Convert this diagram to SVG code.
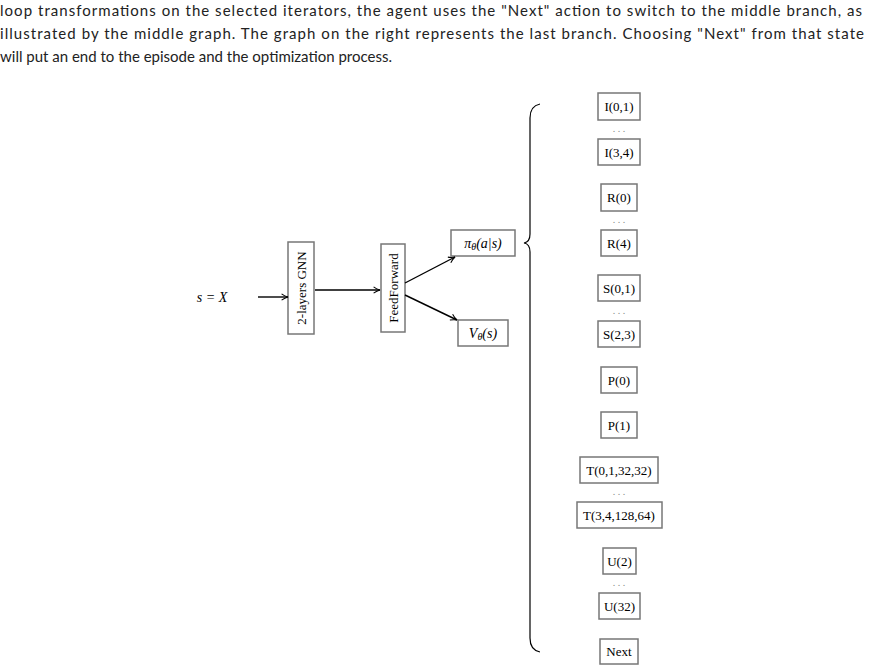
<svg xmlns="http://www.w3.org/2000/svg" width="870" height="670" viewBox="0 0 870 670">
<style>
.hd{font-family:Lato,"DejaVu Sans",sans-serif;font-size:15px;fill:#222}
.t{font-family:"Liberation Serif",serif;font-size:13px;fill:#000;text-anchor:middle;dominant-baseline:central}
.m{font-family:"Liberation Serif",serif;font-size:14px;font-style:italic;fill:#000;text-anchor:middle;dominant-baseline:central}
.b{fill:#fff;stroke:#777;stroke-width:1.5}
.c{stroke:#000;stroke-width:1.4;fill:none;marker-end:url(#a)}
.d{font-family:"Liberation Serif",serif;font-size:10px;fill:#888;text-anchor:middle}
</style>
<defs><marker id="a" viewBox="0 0 10 10" refX="9" refY="5" markerWidth="8" markerHeight="8" orient="auto" markerUnits="userSpaceOnUse"><path d="M1,1 Q5,4 9,5 Q5,6 1,9" fill="none" stroke="#000" stroke-width="1.3"/></marker></defs>
<rect width="870" height="670" fill="#fff"/>
<text class="hd" x="0" y="16" textLength="862">loop transformations on the selected iterators, the agent uses the "Next" action to switch to the middle branch, as</text>
<text class="hd" x="0" y="39" textLength="864">illustrated by the middle graph. The graph on the right represents the last branch. Choosing "Next" from that state</text>
<text class="hd" x="0" y="62">will put an end to the episode and the optimization process.</text>
<text class="m" x="212" y="297">s = X</text>
<g id="gnn"><rect class="b" x="288" y="242" width="26" height="92"/><text class="t" transform="translate(301,288) rotate(-90)">2-layers GNN</text></g>
<g id="ff"><rect class="b" x="381" y="244" width="24" height="88"/><text class="t" transform="translate(393,288) rotate(-90)">FeedForward</text></g>
<g id="pi"><rect class="b" x="451" y="230" width="64" height="26"/><text class="m" x="483" y="243">π<tspan font-size="10" dy="3">θ</tspan><tspan dy="-3">(a|s)</tspan></text></g>
<g id="v"><rect class="b" x="458" y="320" width="50" height="26"/><text class="m" x="483" y="333">V<tspan font-size="10" dy="3">θ</tspan><tspan dy="-3">(s)</tspan></text></g>
<g id="connectors">
<line class="c" x1="258" y1="297" x2="288" y2="297"/>
<line class="c" x1="315" y1="290" x2="380" y2="290"/>
<line class="c" x1="405" y1="283" x2="455" y2="257"/>
<line class="c" x1="405" y1="295" x2="457" y2="320"/>
</g>
<path id="brace" d="M540,104 Q530,106 530,118 L530,234 Q530,242 524,243 Q530,244 530,252 L530,638 Q530,650 540,652" fill="none" stroke="#000" stroke-width="1.2"/>
<g id="actions">
<g id="i01"><rect class="b" x="598" y="93" width="42" height="27"/><text class="t" x="619" y="106.5">I(0,1)</text></g>
<text class="d" x="619" y="132">. . .</text>
<g id="i34"><rect class="b" x="598" y="139" width="42" height="26"/><text class="t" x="619" y="152">I(3,4)</text></g>
<g id="r0"><rect class="b" x="601" y="184" width="36" height="27"/><text class="t" x="619" y="197.5">R(0)</text></g>
<text class="d" x="619" y="223">. . .</text>
<g id="r4"><rect class="b" x="601" y="230" width="36" height="26"/><text class="t" x="619" y="243">R(4)</text></g>
<g id="s01"><rect class="b" x="598" y="275" width="42" height="26"/><text class="t" x="619" y="288">S(0,1)</text></g>
<text class="d" x="619" y="314">. . .</text>
<g id="s23"><rect class="b" x="598" y="321" width="42" height="26"/><text class="t" x="619" y="334">S(2,3)</text></g>
<g id="p0"><rect class="b" x="601" y="367" width="36" height="26"/><text class="t" x="619" y="380">P(0)</text></g>
<g id="p1"><rect class="b" x="601" y="412" width="36" height="26"/><text class="t" x="619" y="425">P(1)</text></g>
<g id="t1"><rect class="b" x="580" y="457" width="78" height="26"/><text class="t" x="619" y="470">T(0,1,32,32)</text></g>
<text class="d" x="619" y="495">. . .</text>
<g id="t2"><rect class="b" x="577" y="502" width="85" height="26"/><text class="t" x="619" y="515">T(3,4,128,64)</text></g>
<g id="u2"><rect class="b" x="603" y="548" width="33" height="26"/><text class="t" x="619.5" y="561">U(2)</text></g>
<text class="d" x="619" y="586">. . .</text>
<g id="u32"><rect class="b" x="599" y="593" width="41" height="26"/><text class="t" x="619.5" y="606">U(32)</text></g>
<g id="next"><rect class="b" x="600" y="639" width="38" height="25"/><text class="t" x="619" y="651.5">Next</text></g>
</g>
</svg>
